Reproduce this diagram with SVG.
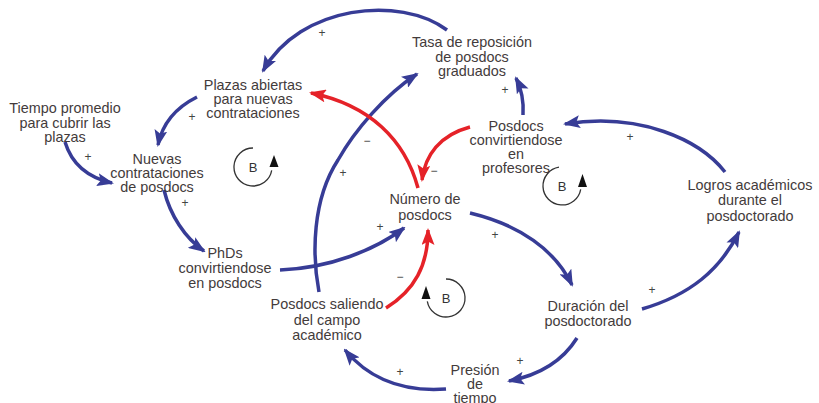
<svg xmlns="http://www.w3.org/2000/svg" width="819" height="403" viewBox="0 0 819 403">
<defs>
<marker id="ab" markerUnits="userSpaceOnUse" viewBox="0 0 17 13" markerWidth="17" markerHeight="13" refX="15" refY="6.5" orient="auto">
<path d="M0,0 L17,6.5 L0,13 L3.5,6.5 Z" fill="#373c96"/>
</marker>
<marker id="ar" markerUnits="userSpaceOnUse" viewBox="0 0 17 13" markerWidth="17" markerHeight="13" refX="15" refY="6.5" orient="auto">
<path d="M0,0 L17,6.5 L0,13 L3.5,6.5 Z" fill="#e52228"/>
</marker>
</defs>
<style>
.lbl{font-family:"Liberation Sans",Arial,sans-serif;font-size:14.4px;fill:#433b3b;text-anchor:middle}
.sg{font-family:"Liberation Sans",Arial,sans-serif;font-size:12px;fill:#444;text-anchor:middle}
.b{fill:none;stroke:#373c96;stroke-width:3.5;marker-end:url(#ab)}
.r{fill:none;stroke:#e52228;stroke-width:3.5;marker-end:url(#ar)}
.loop{fill:none;stroke:#333;stroke-width:1.3}
.bt{font-family:"Liberation Sans",Arial,sans-serif;font-size:13px;fill:#333;text-anchor:middle}
</style>
<rect width="819" height="403" fill="#fff"/>
<g id="connectors">
<path class="b" d="M447,30 C400,-5 300,5 263,71"/>
<path class="b" d="M197,97 C175,108 162,125 158,145"/>
<path class="b" d="M65,142 C72,165 90,178 112,183"/>
<path class="b" d="M164,190 C170,215 185,238 204,251"/>
<path class="b" d="M280,270 C330,268 375,250 404,228"/>
<path class="b" d="M319,292 C312,255 312,200 338,160 C355,130 385,95 417,74"/>
<path class="b" d="M523,115 C524,100 521,88 516,78"/>
<path class="b" d="M725,172 C700,140 640,112 565,124"/>
<path class="r" d="M470,127 C440,135 425,155 422,180"/>
<path class="r" d="M418,188 C405,140 370,105 311,93"/>
<path class="r" d="M386,308 C415,290 428,265 428,230"/>
<path class="b" d="M470,213 C520,225 555,250 572,285"/>
<path class="b" d="M642,309 C690,295 720,270 739,232"/>
<path class="b" d="M577,338 C562,362 540,375 509,381"/>
<path class="b" d="M446,389 C405,392 370,380 345,350"/>
<text class="sg" x="322" y="37">+</text>
<text class="sg" x="192" y="121">+</text>
<text class="sg" x="88" y="161">+</text>
<text class="sg" x="185" y="207">+</text>
<text class="sg" x="380" y="231">+</text>
<text class="sg" x="343" y="177">+</text>
<text class="sg" x="505" y="94">+</text>
<text class="sg" x="630" y="141">+</text>
<text class="sg" x="495" y="239">+</text>
<text class="sg" x="652" y="294">+</text>
<text class="sg" x="520" y="365">+</text>
<text class="sg" x="400" y="376">+</text>
<text class="sg" x="434" y="175">−</text>
<text class="sg" x="367" y="145">−</text>
<text class="sg" x="400" y="281">−</text>
</g>
<g id="loop-b1">
<path class="loop" d="M253,148 A19,19 0 1 0 271.7,170.3"/>
<path d="M274,155 L269.5,167 L278.5,167 Z" fill="#111"/>
<text class="bt" x="253" y="171.5">B</text>
</g>
<g id="loop-b2">
<path class="loop" d="M559,167.2 A19,19 0 1 0 580.7,189.3"/>
<path d="M582.5,174 L578,187 L587,187 Z" fill="#111"/>
<text class="bt" x="562" y="190.5">B</text>
</g>
<g id="loop-b3">
<path class="loop" d="M446,279 A19,19 0 1 1 427.3,301.3"/>
<path d="M426,286 L421.5,299 L430.5,299 Z" fill="#111"/>
<text class="bt" x="446" y="302.5">B</text>
</g>
<g id="tasa"><text class="lbl" x="472" y="47">Tasa de reposición</text><text class="lbl" x="472" y="61.5">de posdocs</text><text class="lbl" x="472" y="76">graduados</text></g>
<g id="plazas"><text class="lbl" x="253" y="90">Plazas abiertas</text><text class="lbl" x="253" y="104">para nuevas</text><text class="lbl" x="253" y="118">contrataciones</text></g>
<g id="tiempo-promedio"><text class="lbl" x="65" y="113">Tiempo promedio</text><text class="lbl" x="65" y="127.5">para cubrir las</text><text class="lbl" x="65" y="142">plazas</text></g>
<g id="nuevas"><text class="lbl" x="157" y="164">Nuevas</text><text class="lbl" x="157" y="178">contrataciones</text><text class="lbl" x="157" y="192">de posdocs</text></g>
<g id="phds"><text class="lbl" x="225" y="258">PhDs</text><text class="lbl" x="225" y="273">convirtiendose</text><text class="lbl" x="225" y="288">en posdocs</text></g>
<g id="numero"><text class="lbl" x="425" y="204">Número de</text><text class="lbl" x="425" y="219.5">posdocs</text></g>
<g id="profesores"><text class="lbl" x="516" y="131">Posdocs</text><text class="lbl" x="516" y="145">convirtiendose</text><text class="lbl" x="516" y="159">en</text><text class="lbl" x="516" y="173">profesores</text></g>
<g id="logros"><text class="lbl" x="750" y="190">Logros académicos</text><text class="lbl" x="750" y="205">durante el</text><text class="lbl" x="750" y="220.5">posdoctorado</text></g>
<g id="duracion"><text class="lbl" x="588" y="311">Duración del</text><text class="lbl" x="588" y="325.5">posdoctorado</text></g>
<g id="presion"><text class="lbl" x="475" y="375">Presión</text><text class="lbl" x="475" y="389">de</text><text class="lbl" x="475" y="403">tiempo</text></g>
<g id="saliendo"><text class="lbl" x="327" y="309">Posdocs saliendo</text><text class="lbl" x="327" y="324.5">del campo</text><text class="lbl" x="327" y="340">académico</text></g>
</svg>
